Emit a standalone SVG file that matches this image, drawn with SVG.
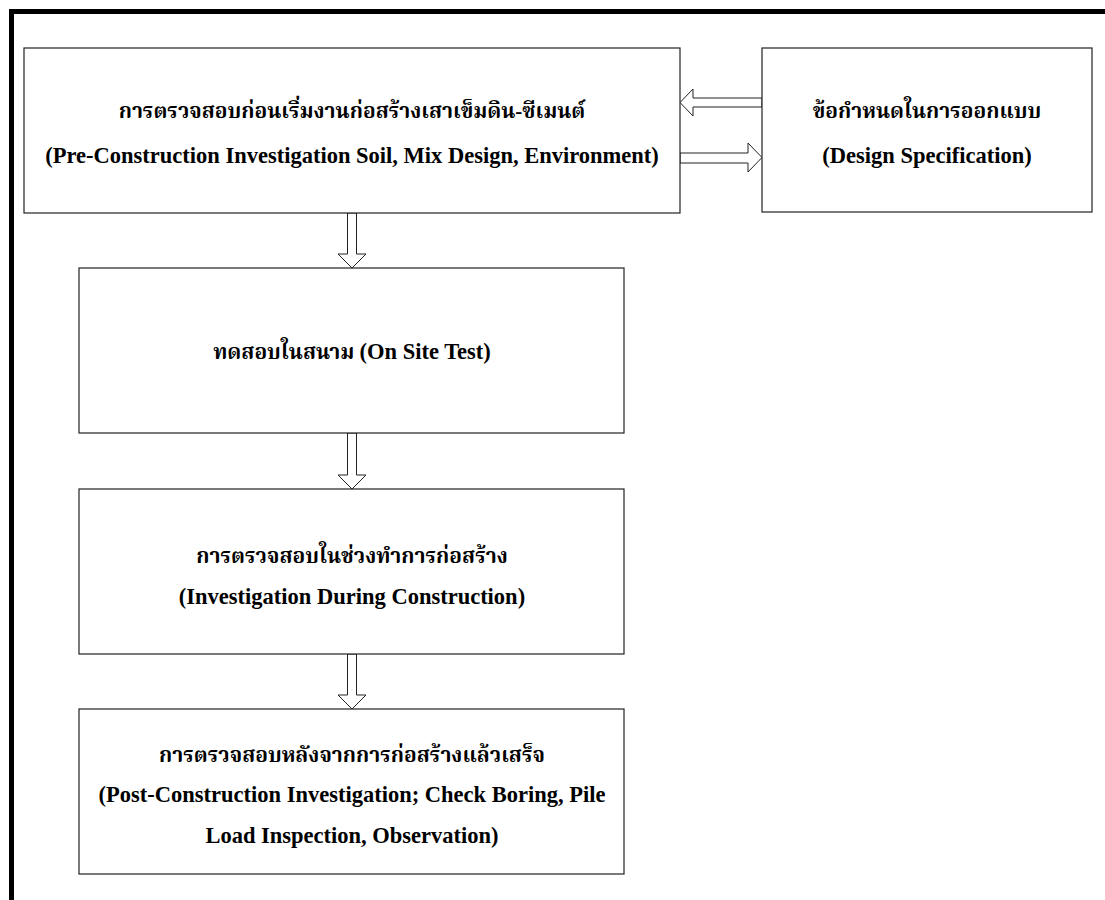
<svg xmlns="http://www.w3.org/2000/svg" width="1105" height="900" viewBox="0 0 1105 900">
<style>
.box{fill:#fff;stroke:#222;stroke-width:1.2}
.arr{fill:#fff;stroke:#222;stroke-width:1}
.t{font-family:'Liberation Serif','Noto Serif Thai','Noto Sans Thai','DejaVu Serif',serif;font-weight:bold;fill:#000;text-anchor:middle}
.th{font-size:21px}
.en{font-size:22.5px}
</style>
<rect width="1105" height="900" fill="#fff"/>
<path d="M11.5,900 V11.5 H1105" fill="none" stroke="#000" stroke-width="5"/>
<g id="connectors">
<polygon class="arr" points="762,98 693,98 693,89 680,102.5 693,116 693,107 762,107"/>
<polygon class="arr" points="680,153 748,153 748,143 762,157.5 748,172 748,163 680,163"/>
<polygon class="arr" points="347.5,213 356.5,213 356.5,254 366,254 352,268 338,254 347.5,254"/>
<polygon class="arr" points="347.5,433 356.5,433 356.5,475 366,475 352,489 338,475 347.5,475"/>
<polygon class="arr" points="347.5,654 356.5,654 356.5,695 366,695 352,709 338,695 347.5,695"/>
</g>
<g id="pre">
<rect class="box" x="24" y="48" width="656" height="165"/>
<text class="t th" x="352" y="118">การตรวจสอบก่อนเริ่มงานก่อสร้างเสาเข็มดิน-ซีเมนต์</text>
<text class="t en" x="352" y="163">(Pre-Construction Investigation Soil, Mix Design, Environment)</text>
</g>
<g id="spec">
<rect class="box" x="762" y="48" width="330" height="164"/>
<text class="t th" x="927" y="118">ข้อกำหนดในการออกแบบ</text>
<text class="t en" x="927" y="163">(Design Specification)</text>
</g>
<g id="onsite">
<rect class="box" x="79" y="268" width="545" height="165"/>
<text class="t" x="352" y="359"><tspan class="th">ทดสอบในสนาม </tspan><tspan class="en">(On Site Test)</tspan></text>
</g>
<g id="during">
<rect class="box" x="79" y="489" width="545" height="165"/>
<text class="t th" x="352" y="563">การตรวจสอบในช่วงทำการก่อสร้าง</text>
<text class="t en" x="352" y="604">(Investigation During Construction)</text>
</g>
<g id="post">
<rect class="box" x="79" y="709" width="545" height="165"/>
<text class="t th" x="352" y="762">การตรวจสอบหลังจากการก่อสร้างแล้วเสร็จ</text>
<text class="t en" x="352" y="802">(Post-Construction Investigation; Check Boring, Pile</text>
<text class="t en" x="352" y="843">Load Inspection, Observation)</text>
</g>
</svg>
